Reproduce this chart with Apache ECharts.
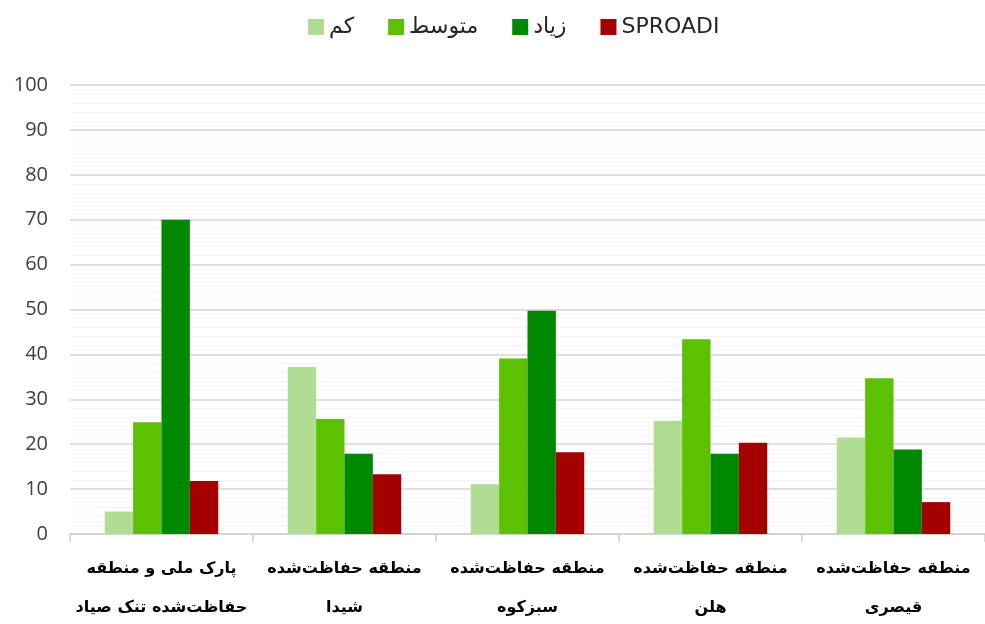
<!DOCTYPE html>
<html>
<head>
<meta charset="utf-8">
<script src="https://cdn.jsdelivr.net/npm/echarts@6/dist/echarts.min.js"></script>
<style>
  html, body { margin: 0; padding: 0; background: #fff; }
  #main { width: 985px; height: 624px; }
</style>
</head>
<body>
<div id="main"></div>
<script>
// categories (left to right)
var categories = [
    'پارک ملی و منطقه\nحفاظت‌شده تنک صیاد',
    'منطقه حفاظت‌شده\nشیدا',
    'منطقه حفاظت‌شده\nسبزکوه',
    'منطقه حفاظت‌شده\nهلن',
    'منطقه حفاظت‌شده\nقیصری'
];
var seriesNames = ['کم', 'متوسط', 'زیاد', 'SPROADI'];
var lowVals = [5, 37.2, 11.1, 25.2, 21.5];
var midVals = [24.9, 25.6, 39.1, 43.4, 34.7];
var highVals = [70, 17.9, 49.7, 17.9, 18.8];
var sproadiVals = [11.8, 13.3, 18.2, 20.3, 7.1];
var colors = ['#b0dc94', '#5bc100', '#008800', '#a50000'];

var chartDom = document.getElementById('main');
var myChart = echarts.init(chartDom);

var makeSeries = function (name, data, color) {
    return {
        name: name,
        type: 'bar',
        data: data,
        barGap: '0%',
        barCategoryGap: '38%',
        itemStyle: { color: color },
        emphasis: { disabled: true }
    };
};

var option = {
    animation: false,
    textStyle: { fontFamily: 'Open Sans' },
    legend: {
        top: 11,
        left: 303,
        icon: 'rect',
        itemWidth: 16,
        itemHeight: 16,
        itemGap: 34,
        textStyle: { fontSize: 22, color: '#262626', fontFamily: 'DejaVu Sans' },
        data: seriesNames
    },
    grid: {
        left: 70,
        right: 0,
        top: 85,
        bottom: 90,
        outerBoundsMode: 'none'
    },
    xAxis: {
        type: 'category',
        data: categories,
        axisLine: { lineStyle: { color: '#d0d0d0', width: 1.5 } },
        axisTick: { show: true, interval: 0, length: 8, lineStyle: { color: '#d0d0d0', width: 1.5 } },
        axisLabel: {
            interval: 0,
            fontSize: 16,
            fontWeight: 'bold',
            fontFamily: 'DejaVu Sans',
            color: '#000',
            lineHeight: 39,
            margin: 15
        }
    },
    yAxis: {
        type: 'value',
        min: 0,
        max: 100,
        interval: 10,
        axisLine: { show: false },
        axisTick: { show: false },
        axisLabel: {
            fontSize: 20,
            color: '#404040',
            margin: 22
        },
        splitLine: { lineStyle: { color: '#d4d4d4', width: 1.5 } },
        minorTick: { show: false, splitNumber: 5 },
        minorSplitLine: { show: true, lineStyle: { color: '#f4f4f4', width: 1 } }
    },
    series: [
        makeSeries(seriesNames[0], lowVals, colors[0]),
        makeSeries(seriesNames[1], midVals, colors[1]),
        makeSeries(seriesNames[2], highVals, colors[2]),
        makeSeries(seriesNames[3], sproadiVals, colors[3])
    ]
};

myChart.setOption(option);
</script>
</body>
</html>
